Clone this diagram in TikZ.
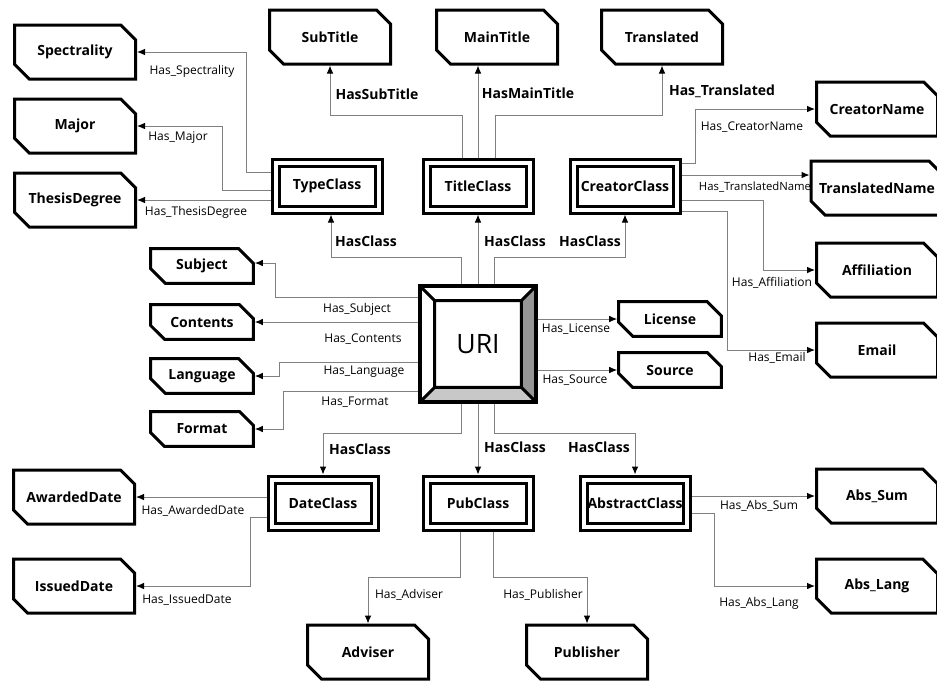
\documentclass[tikz,border=0pt]{standalone}
\usepackage{fontspec}
\setmainfont{Open Sans}
\usetikzlibrary{shapes.misc,arrows.meta,calc}
\definecolor{linkgray}{RGB}{128,128,128}
\definecolor{bevelgray}{RGB}{150,150,150}
\definecolor{bevellight}{RGB}{200,200,200}

\begin{document}
\begin{tikzpicture}[
    x=0.75pt, y=-0.75pt,
    leaf/.style={chamfered rectangle, chamfered rectangle corners={north east,south west},
        chamfered rectangle xsep=5.5pt, chamfered rectangle ysep=5.5pt, draw, line width=2.25pt,
        minimum width=90.75pt, minimum height=40.5pt, inner sep=1pt,
        font=\fontsize{10.5}{12}\selectfont\bfseries},
    smallleaf/.style={leaf, minimum width=77pt, minimum height=26pt},
    cls/.style={draw, double, line width=2.25pt, double distance=3pt, outer sep=3.75pt,
        minimum width=77.25pt, minimum height=35.25pt, inner sep=1pt,
        font=\fontsize{10.5}{12}\selectfont\bfseries},
    uri/.style={draw, line width=3pt, minimum size=87pt, inner sep=0pt,
        font=\fontsize{20}{24}\selectfont,
        path picture={
            \coordinate (o1) at (path picture bounding box.north west);
            \coordinate (o2) at (path picture bounding box.north east);
            \coordinate (o3) at (path picture bounding box.south east);
            \coordinate (o4) at (path picture bounding box.south west);
            \coordinate (i1) at ($(o1)+(10.9pt,-10.9pt)$);
            \coordinate (i2) at ($(o2)+(-10.9pt,-10.9pt)$);
            \coordinate (i3) at ($(o3)+(-10.9pt,10.9pt)$);
            \coordinate (i4) at ($(o4)+(10.9pt,10.9pt)$);
            \fill[bevelgray] (o2) -- (o3) -- (i3) -- (i2) -- cycle;
            \fill[bevellight] (o3) -- (o4) -- (i4) -- (i3) -- cycle;
            \draw[line width=2.25pt] (i1) rectangle (i3) (o1) -- (i1) (o2) -- (i2) (o3) -- (i3) (o4) -- (i4);
        }},
    link/.style={draw=linkgray, line width=0.75pt, -{Latex[length=6pt,width=5pt,color=black]}},
    lbl/.style={inner sep=1pt, font=\fontsize{9}{10}\selectfont},
    biglbl/.style={inner sep=1pt, font=\fontsize{10.5}{12}\selectfont\bfseries}
]
\useasboundingbox (0,0) rectangle (937,683);

% centre
\node[uri] (uri) at (478,344) {URI};

% classes
\node[cls] (typecls) at (327,186) {TypeClass};
\node[cls] (titlecls) at (478,186) {TitleClass};
\node[cls] (creatorcls) at (625,186) {CreatorClass};
\node[cls] (datecls) at (323,503) {DateClass};
\node[cls] (pubcls) at (478,503) {PubClass};
\node[cls] (abscls) at (635,503) {AbstractClass};

% leaves
\node[leaf] (spectrality) at (75,52) {Spectrality};
\node[leaf] (major) at (75,126) {Major};
\node[leaf] (thesisdeg) at (75,200) {ThesisDegree};
\node[leaf] (subtitle) at (330,37) {SubTitle};
\node[leaf] (maintitle) at (497,37) {MainTitle};
\node[leaf] (translated) at (662,37) {Translated};
\node[leaf] (creatorname) at (877,109) {CreatorName};
\node[leaf] (transname) at (877,188) {TranslatedName};
\node[leaf] (affiliation) at (877,270) {Affiliation};
\node[leaf] (email) at (877,350) {Email};
\node[smallleaf] (subject) at (202,266) {Subject};
\node[smallleaf] (contents) at (202,322) {Contents};
\node[smallleaf] (language) at (202,376) {Language};
\node[smallleaf] (format) at (202,429) {Format};
\node[smallleaf] (license) at (670,319) {License};
\node[smallleaf] (source) at (670,370) {Source};
\node[leaf] (awarded) at (74,497) {AwardedDate};
\node[leaf] (issued) at (74,586) {IssuedDate};
\node[leaf] (adviser) at (368,652) {Adviser};
\node[leaf] (publisher) at (587,652) {Publisher};
\node[leaf] (abssum) at (877,496) {Abs\_Sum};
\node[leaf] (abslang) at (877,586) {Abs\_Lang};

% uri links
\draw[link] ($(uri.north)+(-17,0)$) -- ++(0,-27) -| ($(typecls.south)+(4,0)$);
\draw[link] (uri.north) -- (titlecls.south);
\draw[link] ($(uri.north)+(16,0)$) -- ++(0,-27) -| (creatorcls.south);
\draw[link] ($(uri.south)+(-17,0)$) -- ++(0,29) -| (datecls.north);
\draw[link] (uri.south) -- (pubcls.north);
\draw[link] ($(uri.south)+(16,0)$) -- ++(0,29) -| (abscls.north);
\draw[link] ($(uri.west)+(0,-47)$) -- ++(-143,0) |- ($(subject.east)+(0,-3)$);
\draw[link] ($(uri.west)+(0,-22)$) -- (contents.east);
\draw[link] ($(uri.west)+(0,18)$) -- ++(-139,0) |- (language.east);
\draw[link] ($(uri.west)+(0,47)$) -- ++(-135,0) |- (format.east);
\draw[link] ($(uri.east)+(0,-25)$) -- (license.west);
\draw[link] ($(uri.east)+(0,26)$) -- (source.west);

% class links
\draw[link] ($(typecls.west)+(0,-14)$) -- ++(-24,0) |- (spectrality.east);
\draw[link] ($(typecls.west)+(0,4)$) -- ++(-48,0) |- (major.east);
\draw[link] ($(typecls.west)+(0,14)$) -- (thesisdeg.east);
\draw[link] ($(titlecls.north)+(-16,0)$) -- ++(0,-42) -| (subtitle.south);
\draw[link] (titlecls.north) -- (titlecls.north |- maintitle.south);
\draw[link] ($(titlecls.north)+(17,0)$) -- ++(0,-42) -| (translated.south);
\draw[link] ($(creatorcls.east)+(0,-23)$) -- ++(14,0) |- (creatorname.west);
\draw[link] ($(creatorcls.east)+(0,-11)$) coordinate (tn) -- (tn -| transname.west);
\draw[link] ($(creatorcls.east)+(0,14)$) -- ++(82,0) |- (affiliation.west);
\draw[link] ($(creatorcls.east)+(0,25)$) -- ++(46,0) |- (email.west);
\draw[link] ($(datecls.west)+(0,-6)$) -- (awarded.east);
\draw[link] ($(datecls.west)+(0,14)$) -- ++(-16,0) |- (issued.east);
\draw[link] ($(pubcls.south)+(-18,0)$) -- ++(0,46) -| (adviser.north);
\draw[link] ($(pubcls.south)+(15,0)$) -- ++(0,46) -| (publisher.north);
\draw[link] ($(abscls.east)+(0,-7)$) -- (abssum.west);
\draw[link] ($(abscls.east)+(0,10)$) -- ++(23,0) |- (abslang.west);

% labels
\node[biglbl] (l-cls1) at (366,241) {HasClass};
\node[biglbl] (l-cls2) at (515,241) {HasClass};
\node[biglbl] (l-cls3) at (590,241) {HasClass};
\node[biglbl] (l-cls4) at (360,449) {HasClass};
\node[biglbl] (l-cls5) at (515,447) {HasClass};
\node[biglbl] (l-cls6) at (599,447) {HasClass};
\node[biglbl] (l-sub) at (377,94) {HasSubTitle};
\node[biglbl] (l-main) at (528,93) {HasMainTitle};
\node[biglbl] (l-trans) at (722,91) {Has\_Translated};
\node[lbl] (l-spec) at (192,71) {Has\_Spectrality};
\node[lbl] (l-major) at (178,138) {Has\_Major};
\node[lbl] (l-thesis) at (196,212) {Has\_ThesisDegree};
\node[lbl] (l-cname) at (752,127) {Has\_CreatorName};
\node[lbl, font=\fontsize{8.5}{10}\selectfont] (l-tname) at (755,187) {Has\_TranslatedName};
\node[lbl] (l-affil) at (772,283) {Has\_Affiliation};
\node[lbl] (l-email) at (777,358) {Has\_Email};
\node[lbl] (l-subj) at (357,309) {Has\_Subject};
\node[lbl] (l-cont) at (363,339) {Has\_Contents};
\node[lbl] (l-lang) at (364,372) {Has\_Language};
\node[lbl] (l-form) at (355,402) {Has\_Format};
\node[lbl] (l-lic) at (576,329) {Has\_License};
\node[lbl] (l-src) at (575,380) {Has\_Source};
\node[lbl] (l-award) at (193,511) {Has\_AwardedDate};
\node[lbl] (l-issue) at (187,600) {Has\_IssuedDate};
\node[lbl] (l-adv) at (409,595) {Has\_Adviser};
\node[lbl] (l-pub) at (543,595) {Has\_Publisher};
\node[lbl] (l-asum) at (759,506) {Has\_Abs\_Sum};
\node[lbl] (l-alang) at (759,603) {Has\_Abs\_Lang};

\end{tikzpicture}
\end{document}
